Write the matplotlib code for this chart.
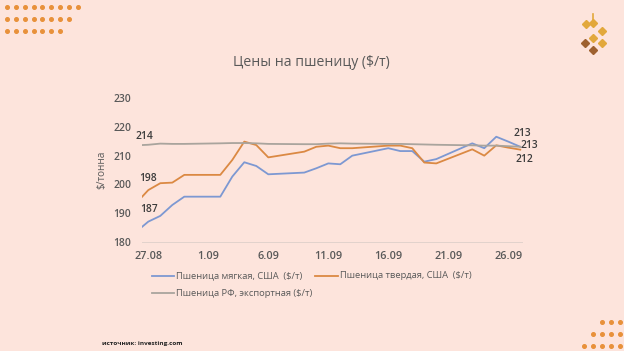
import matplotlib
matplotlib.use("Agg")
import matplotlib.pyplot as plt
import matplotlib.dates as mdates
from matplotlib.lines import Line2D
import datetime as dt

plt.rcParams['font.family'] = ['Open Sans', 'DejaVu Sans']

# ---- data (trading days; weekends absent) ----
dates = ["2024-08-26", "2024-08-27", "2024-08-28", "2024-08-29", "2024-08-30",
         "2024-09-02", "2024-09-03", "2024-09-04", "2024-09-05", "2024-09-06",
         "2024-09-09", "2024-09-10", "2024-09-11", "2024-09-12", "2024-09-13",
         "2024-09-16", "2024-09-17", "2024-09-18", "2024-09-19", "2024-09-20",
         "2024-09-23", "2024-09-24", "2024-09-25", "2024-09-26", "2024-09-27"]
soft_us = [183.5, 187.0, 189.0, 192.8, 195.7,
           195.7, 202.7, 207.7, 206.4, 203.5,
           204.1, 205.6, 207.3, 207.0, 210.0,
           212.6, 211.6, 211.6, 207.9, 208.8,
           214.3, 212.6, 216.6, 214.9, 213.1]
hard_us = [193.5, 198.0, 200.4, 200.6, 203.3,
           203.3, 208.5, 214.9, 213.7, 209.4,
           211.4, 213.1, 213.5, 212.6, 212.6,
           213.5, 213.5, 212.6, 207.6, 207.3,
           212.2, 210.0, 213.6, 212.8, 212.1]
ru_export = [213.6, 213.8, 214.2, 214.1, 214.1,
             214.3, 214.4, 214.4, 214.3, 214.1,
             214.0, 214.0, 214.2, 214.3, 214.2,
             214.1, 214.1, 214.0, 213.9, 213.8,
             213.6, 213.5, 213.5, 213.3, 213.1]
series_names = ["Пшеница мягкая, США  ($/т)", "Пшеница твердая, США  ($/т)",
                "Пшеница РФ, экспортная ($/т)"]
tick_dates = ["2024-08-27", "2024-09-01", "2024-09-06", "2024-09-11",
              "2024-09-16", "2024-09-21", "2024-09-26"]
tick_labels = ["27.08", "1.09", "6.09", "11.09", "16.09", "21.09", "26.09"]
yticks = [180, 190, 200, 210, 220, 230]
title = "Цены на пшеницу ($/т)"
ylabel = "$/тонна"
source = "источник: investing.com"

BG = "#fde4dc"
C_BLUE = "#7d98d2"
C_ORANGE = "#db8943"
C_GREY = "#a9a49d"
TXT = "#595959"

W, H = 624, 351
fig = plt.figure(figsize=(W / 100, H / 100), dpi=100, facecolor=BG)

def fx(px):
    return px / W

def fy(py):
    return 1 - py / H

ax = fig.add_axes([fx(141.7), fy(241.7), fx(521.7) - fx(141.7), fy(98.3) - fy(241.7)])
ax.set_facecolor(BG)

x = [mdates.date2num(dt.datetime.strptime(d, "%Y-%m-%d")) for d in dates]
ax.plot(x, soft_us, color=C_BLUE, lw=1.3, solid_joinstyle='round')
ax.plot(x, hard_us, color=C_ORANGE, lw=1.3, solid_joinstyle='round')
ax.plot(x, ru_export, color=C_GREY, lw=1.3, solid_joinstyle='round')

x0 = mdates.date2num(dt.datetime(2024, 8, 27))
x1 = mdates.date2num(dt.datetime(2024, 9, 27))
ax.set_xlim(x0 - 0.55, x1 + 0.12)
ax.set_ylim(180, 230)

xt = [mdates.date2num(dt.datetime.strptime(d, "%Y-%m-%d")) for d in tick_dates]
ax.set_xticks(xt)
ax.set_xticklabels(tick_labels)
ax.set_yticks(yticks)
ax.tick_params(axis='x', length=0, pad=7, labelsize=7.8, colors=TXT)
ax.tick_params(axis='y', length=0, pad=7.5, labelsize=7.4, colors=TXT)
for lab in ax.get_xticklabels() + ax.get_yticklabels():
    lab.set_fontweight('semibold')
for s in ['top', 'right', 'left']:
    ax.spines[s].set_visible(False)
ax.spines['bottom'].set_color('#e2d2cc')
ax.spines['bottom'].set_linewidth(0.7)

ax.set_ylabel(ylabel, fontsize=7.2, color=TXT, labelpad=4)

# data labels
lab_kw = dict(fontsize=7.4, color="#3c3c3c", fontweight='semibold')
ax.annotate(f"{round(ru_export[1]):d}", (x[1], ru_export[1]), xytext=(-13, 8),
            textcoords='offset pixels', ha='left', va='center', **lab_kw)
ax.annotate(f"{round(hard_us[1]):d}", (x[1], hard_us[1]), xytext=(-9, 12),
            textcoords='offset pixels', ha='left', va='center', **lab_kw)
ax.annotate(f"{round(soft_us[1]):d}", (x[1], soft_us[1]), xytext=(-8, 12),
            textcoords='offset pixels', ha='left', va='center', **lab_kw)
ax.annotate(f"{round(soft_us[-1]):d}", (x[-1], soft_us[-1]), xytext=(-7, 13),
            textcoords='offset pixels', ha='left', va='center', annotation_clip=False, **lab_kw)
ax.annotate(f"{round(ru_export[-1]):d}", (x[-1], ru_export[-1]), xytext=(0, 1),
            textcoords='offset pixels', ha='left', va='center', annotation_clip=False, **lab_kw)
ax.annotate(f"{round(hard_us[-1]):d}", (x[-1], hard_us[-1]), xytext=(-5, -10),
            textcoords='offset pixels', ha='left', va='center', annotation_clip=False, **lab_kw)

# title
fig.text(fx(311.5), fy(62), title, ha='center', va='center', fontsize=10.1, color=TXT)

# legend (manual)
leg = [(151.7, 275.7, C_BLUE, series_names[0]),
       (315.0, 275.7, C_ORANGE, series_names[1]),
       (151.7, 293.3, C_GREY, series_names[2])]
for lx, ly, c, name in leg:
    fig.add_artist(Line2D([fx(lx), fx(lx + 22.5)], [fy(ly), fy(ly)], color=c, lw=1.3,
                          transform=fig.transFigure))
    fig.text(fx(lx + 24.5), fy(ly), name, ha='left', va='center', fontsize=6.75, color=TXT)

# source
fig.text(fx(102), fy(343), source, ha='left', va='center', fontsize=4.6,
         color="#222222", fontweight='bold')

# decorative dots
DOT = "#e8913a"
for row, n in enumerate([9, 8, 7]):
    xs = [fx(7.3 + 8.8 * i) for i in range(n)]
    ys = [fy(7.3 + 11.8 * row)] * n
    fig.add_artist(Line2D(xs, ys, ls='none', marker='o', ms=2.6, color=DOT,
                          transform=fig.transFigure))
for row, n in enumerate([3, 4, 5]):
    xs = [fx(620 - 9 * i) for i in range(n)]
    ys = [fy(322.3 + 11.7 * row)] * n
    fig.add_artist(Line2D(xs, ys, ls='none', marker='o', ms=2.6, color=DOT,
                          transform=fig.transFigure))

# wheat logo
GOLD = "#e2a83c"
BROWN = "#9e6130"
fig.add_artist(Line2D([fx(593.3), fx(593.3)], [fy(14), fy(20)], color=GOLD, lw=1.2,
                      transform=fig.transFigure))
logo = [(585.7, 24, GOLD), (593.3, 23, GOLD), (601.5, 31, GOLD), (593.3, 37.5, GOLD),
        (585.3, 43, BROWN), (601.5, 43, GOLD), (593.3, 50, BROWN)]
for lx, ly, c in logo:
    fig.add_artist(Line2D([fx(lx)], [fy(ly)], ls='none', marker='D', ms=4.4, color=c,
                          transform=fig.transFigure))

fig.savefig("out.png", dpi=100, facecolor=BG)
